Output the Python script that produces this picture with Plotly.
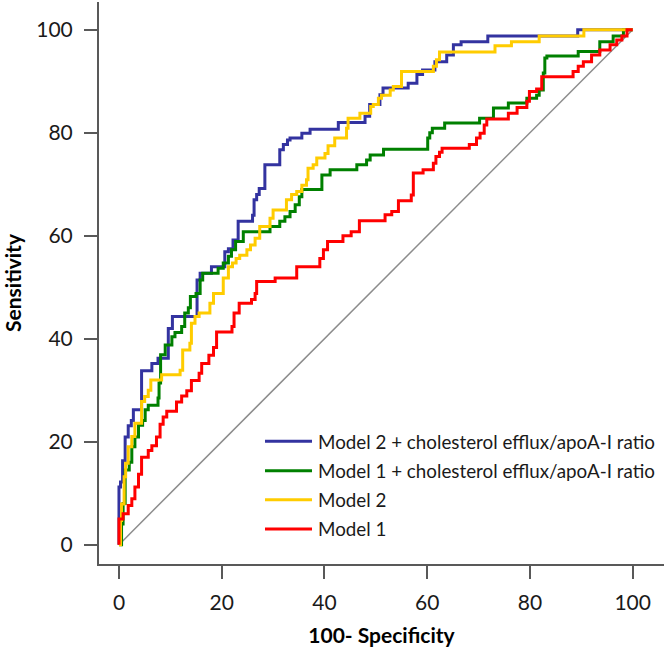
import plotly.graph_objects as go

# ---- data (100 - specificity, sensitivity), step vertices ----
m2r_x = [0, 0, 0.3, 0.7, 1.2, 1.8, 2.4, 2.8, 4.4, 6.4, 7.6, 9.6, 10.4, 15.2, 15.8, 18.0, 20.6, 21.3,
         22.2, 23.2, 26.0, 26.3, 26.8, 27.3, 28.4, 31.3, 32.0, 32.8, 33.3, 35.6, 37.2, 42.7, 47.9,
         48.8, 50.8, 51.4, 56.3, 58.0, 59.1, 61.5, 63.8, 65.1, 66.6, 71.8, 89.3, 100]
m2r_y = [0, 11.2, 12.2, 16.3, 20.9, 23.1, 24.1, 26.2, 33.8, 35.2, 36.2, 42.0, 44.3, 51.4, 52.7, 54.0,
         56.9, 57.5, 59.2, 62.8, 64.0, 67.0, 68.0, 69.2, 73.8, 76.7, 77.7, 78.6, 79.0, 79.9, 80.7,
         82.0, 83.2, 85.5, 87.4, 88.7, 89.6, 91.3, 92.2, 93.8, 95.1, 97.1, 97.7, 98.8, 100, 100]

m1r_x = [0, 0.5, 0.8, 1.2, 2.0, 2.5, 3.1, 3.8, 4.6, 5.1, 5.7, 7.6, 7.8, 8.1, 9.0, 10.3, 10.9, 12.2,
         12.8, 13.5, 13.9, 15.0, 15.8, 16.3, 19.3, 20.3, 21.3, 21.9, 22.7, 24.2, 29.4, 31.3, 32.3,
         33.3, 34.3, 35.1, 35.6, 39.5, 41.1, 46.3, 48.2, 48.9, 51.5, 60.1, 60.5, 61.0, 63.4, 70.2,
         72.9, 75.8, 79.4, 81.3, 81.8, 82.6, 82.9, 83.3, 89.4, 93.6, 96.2, 98.2, 100]
m1r_y = [0, 4.0, 8.0, 14.5, 16.0, 19.0, 20.9, 23.2, 24.1, 26.2, 27.1, 28.5, 31.4, 36.9, 38.8, 40.4,
         41.2, 42.4, 45.0, 46.0, 48.2, 48.8, 51.4, 52.7, 53.7, 54.7, 56.0, 57.3, 58.9, 60.8, 61.8,
         62.8, 63.7, 64.7, 66.0, 67.6, 69.0, 71.8, 72.8, 73.8, 74.7, 75.7, 76.8, 79.0, 80.0, 80.9,
         81.9, 82.8, 84.8, 85.8, 86.7, 87.3, 88.3, 91.6, 94.5, 94.9, 95.8, 97.7, 98.8, 100, 100]

m2_x = [0, 0.3, 0.5, 1.0, 1.3, 1.8, 2.5, 3.1, 4.4, 5.0, 5.7, 6.2, 8.3, 11.9, 12.4, 13.8, 14.1, 14.8,
        15.6, 17.7, 18.4, 20.3, 21.3, 22.1, 22.8, 23.5, 24.9, 25.6, 26.5, 27.4, 29.4, 30.0, 32.6,
        33.6, 34.6, 35.6, 36.5, 36.8, 37.8, 38.5, 40.1, 40.7, 42.0, 44.3, 44.6, 46.9, 49.0, 49.5,
        50.5, 51.1, 52.8, 53.4, 55.0, 61.2, 61.8, 62.4, 73.2, 76.4, 81.8, 90.5, 100]
m2_y = [0, 4.7, 7.9, 13.2, 15.8, 19.0, 21.0, 23.6, 27.8, 28.8, 30.0, 32.0, 33.0, 33.9, 37.8, 39.1,
        43.0, 44.3, 45.0, 46.9, 48.8, 51.8, 54.0, 54.7, 55.6, 56.2, 57.3, 58.2, 59.5, 61.8, 63.4,
        65.0, 67.0, 68.0, 68.6, 69.8, 70.9, 73.1, 73.8, 75.1, 76.0, 77.5, 79.0, 80.9, 82.8, 83.8,
        85.1, 85.5, 86.7, 87.3, 88.3, 89.0, 91.9, 92.9, 94.2, 95.7, 96.9, 97.7, 98.8, 100, 100]

m1_x = [0, 0, 0.8, 1.8, 2.5, 3.1, 3.8, 4.4, 5.7, 6.4, 7.3, 8.0, 8.6, 9.3, 11.2, 12.2, 13.2, 14.1,
        15.6, 16.1, 17.5, 18.4, 19.0, 22.0, 22.4, 23.4, 25.8, 26.5, 26.8, 30.4, 34.6, 39.1, 39.8,
        40.6, 43.6, 45.2, 46.8, 51.8, 53.1, 54.4, 56.9, 57.3, 59.2, 61.2, 61.7, 62.4, 62.9, 68.2,
        69.6, 70.3, 71.1, 71.6, 75.8, 77.5, 79.4, 79.9, 81.3, 82.3, 88.4, 89.4, 90.4, 92.0, 93.6,
        95.6, 96.9, 97.9, 98.9, 100]
m1_y = [0, 5.0, 6.0, 7.6, 8.9, 11.2, 13.7, 17.0, 18.3, 19.2, 20.9, 23.4, 24.8, 25.9, 27.7, 28.9,
        29.9, 31.9, 33.3, 35.2, 36.8, 38.3, 41.3, 42.4, 45.0, 46.9, 47.6, 48.8, 51.1, 51.8, 54.0,
        55.6, 57.3, 58.9, 60.0, 60.8, 62.9, 64.1, 64.7, 66.8, 67.9, 72.2, 72.8, 74.1, 75.4, 76.2,
        77.0, 77.7, 79.0, 79.9, 81.5, 82.7, 83.8, 84.9, 86.1, 88.0, 88.5, 90.9, 91.9, 92.9, 93.8,
        95.1, 96.1, 97.1, 98.0, 98.8, 100, 100]

ref_x = [0, 100]
ref_y = [0, 100]

series = [
    ("Model 2 + cholesterol efflux/apoA-I ratio", m2r_x, m2r_y, "#3333A0"),
    ("Model 1 + cholesterol efflux/apoA-I ratio", m1r_x, m1r_y, "#008000"),
    ("Model 2", m2_x, m2_y, "#FFCC00"),
    ("Model 1", m1_x, m1_y, "#FF0000"),
]

x_ticks = [0, 20, 40, 60, 80, 100]
y_ticks = [0, 20, 40, 60, 80, 100]

FONT = "Lato"
AXIS_COLOR = "#595959"

fig = go.Figure()
fig.add_trace(go.Scatter(x=ref_x, y=ref_y, mode="lines",
                         line=dict(color="#8C8C8C", width=1.5), showlegend=False, hoverinfo="skip"))
for name, xs, ys, col in series:
    fig.add_trace(go.Scatter(x=xs, y=ys, mode="lines", name=name,
                             line=dict(color=col, width=3, shape="hv"), showlegend=False))

# custom legend (long line samples as in reference)
leg_y = [0.2183, 0.166, 0.1144, 0.0623]
for (name, _, _, col), ly in zip(series, leg_y):
    fig.add_shape(type="line", xref="paper", yref="paper", x0=0.2938, x1=0.377, y0=ly, y1=ly,
                  line=dict(color=col, width=3))
    fig.add_annotation(xref="paper", yref="paper", x=0.3845, y=ly, text=name, showarrow=False,
                       xanchor="left", yanchor="middle",
                       font=dict(family=FONT, size=18.8, color="#1a1a1a"))

axis_common = dict(showgrid=False, zeroline=False, showline=True, linecolor=AXIS_COLOR, linewidth=2,
                   ticks="outside", ticklen=13, tickwidth=1.5, tickcolor=AXIS_COLOR,
                   tickfont=dict(family=FONT, size=21, color="#1a1a1a"), mirror=False)

fig.update_xaxes(range=[-3.89, 106.1], tickvals=x_ticks, ticktext=[str(v) for v in x_ticks],
                 title=dict(text="<b>100- Specificity</b>", font=dict(family=FONT, size=21, color="#000"),
                            standoff=15),
                 ticklabelstandoff=6, **axis_common)
fig.update_yaxes(range=[-3.75, 105.4], tickvals=y_ticks, ticktext=[str(v) for v in y_ticks],
                 title=dict(text="<b>Sensitivity</b>", font=dict(family=FONT, size=21, color="#000"),
                            standoff=20),
                 ticklabelstandoff=7, **axis_common)

fig.update_layout(width=666, height=648, margin=dict(l=99, r=2, t=2, b=84, autoexpand=False),
                  plot_bgcolor="white", paper_bgcolor="white", showlegend=False)

fig.write_html("out.html", config={"displayModeBar": False},
               post_script="document.body.style.margin='0';")
